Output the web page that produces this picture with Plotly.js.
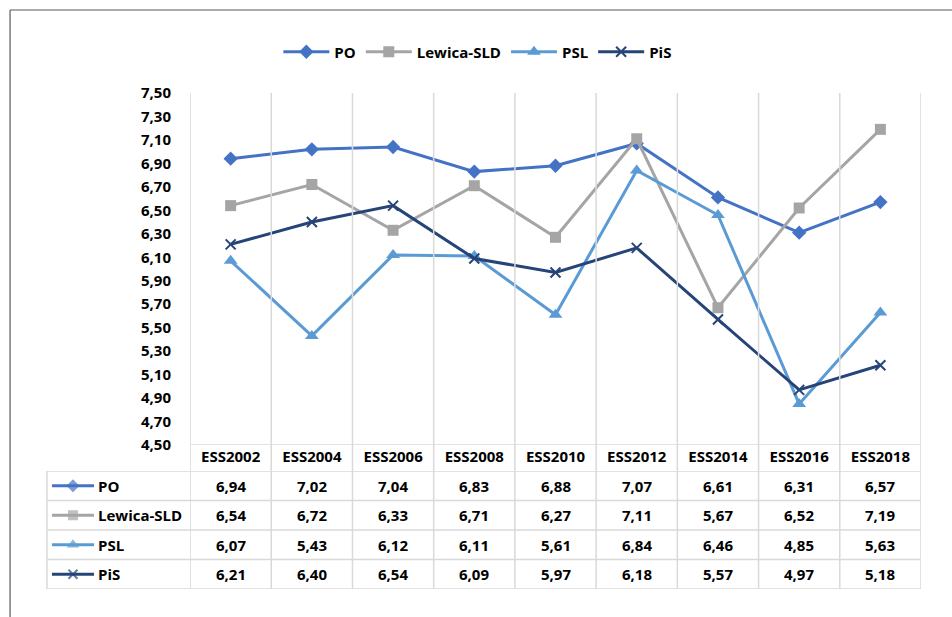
<!DOCTYPE html>
<html>
<head>
<meta charset="utf-8">
<script src="https://cdn.plot.ly/plotly-3.0.1.min.js"></script>
<style>html,body{margin:0;padding:0;background:#fff;}#chart{width:952px;height:617px;}</style>
</head>
<body>
<div id="chart"></div>
<script>
const categories = ['ESS2002','ESS2004','ESS2006','ESS2008','ESS2010','ESS2012','ESS2014','ESS2016','ESS2018'];
const seriesNames = ['PO','Lewica-SLD','PSL','PiS'];
const po     = [6.94,7.02,7.04,6.83,6.88,7.07,6.61,6.31,6.57];
const lewica = [6.54,6.72,6.33,6.71,6.27,7.11,5.67,6.52,7.19];
const psl    = [6.07,5.43,6.12,6.11,5.61,6.84,6.46,4.85,5.63];
const pis    = [6.21,6.40,6.54,6.09,5.97,6.18,5.57,4.97,5.18];
const yTicks = [4.5,4.7,4.9,5.1,5.3,5.5,5.7,5.9,6.1,6.3,6.5,6.7,6.9,7.1,7.3,7.5];

const values = [po, lewica, psl, pis];
const colors = ['#4472C4','#A5A5A5','#5B9BD5','#264478'];
const symbols = ['diamond','square','triangle-up','x-thin'];
const msizes = [11,11,12,10];

const FONT = '"Open Sans", Carlito, Calibri, sans-serif';
const grid = '#D9D9D9';
const tf = {family:FONT, size:15, color:'#000', weight:'bold'};

const traces = [];
values.forEach((v,i)=>{
  traces.push({
    type:'scatter', mode:'lines+markers', name:seriesNames[i],
    x:categories, y:v, xaxis:'x', yaxis:'y',
    line:{color:colors[i], width:3},
    marker:{symbol:symbols[i], size:msizes[i], color:colors[i], line:{color:colors[i], width:symbols[i]==='x-thin'?2:0}}
  });
});
// table row icons
values.forEach((v,i)=>{
  const yc = 3.5 - i;
  traces.push({
    type:'scatter', mode:'lines+markers', showlegend:false, hoverinfo:'skip',
    x:[5,26,47], y:[yc,yc,yc], xaxis:'x2', yaxis:'y2',
    line:{color:colors[i], width:3},
    marker:{symbol:symbols[i], size:[0,msizes[i]-1,0], color:colors[i], line:{color:colors[i], width:symbols[i]==='x-thin'?2:0}}
  });
});

const shapes = [];
for (let k=0;k<=categories.length;k++){
  shapes.push({type:'line', xref:'x', yref:'paper', x0:k-0.5, x1:k-0.5, y0:0, y1:1, line:{color:grid, width:1.5}});
}
shapes.push({type:'line', xref:'x', yref:'y', x0:-0.5, x1:categories.length-0.5, y0:4.5, y1:4.5, line:{color:grid, width:1.5}});
for (let r=0;r<=4;r++){
  shapes.push({type:'line', xref:'paper', yref:'y2', x0:0.0079, x1:1, y0:r, y1:r, line:{color:grid, width:1.5}});
}
shapes.push({type:'line', xref:'paper', yref:'y2', x0:0.0079, x1:0.0079, y0:0, y1:4, line:{color:grid, width:1.5}});
shapes.push({type:'line', xref:'paper', yref:'paper', x0:-0.034, x1:1.1, y0:1.1673, y1:1.1673, line:{color:'#595959', width:1.2}});
shapes.push({type:'line', xref:'paper', yref:'paper', x0:-0.034, x1:-0.034, y0:1.1673, y1:-0.2, line:{color:'#595959', width:1.2}});

const annotations = [];
values.forEach((v,i)=>{
  const yc = 3.5 - i;
  annotations.push({xref:'x2', yref:'y2', x:49, y:yc, text:seriesNames[i], showarrow:false, xanchor:'left', yanchor:'middle', font:tf});
  v.forEach((val,j)=>{
    annotations.push({xref:'x', yref:'y2', x:categories[j], y:yc, text:val.toFixed(2).replace('.',','), showarrow:false, xanchor:'center', yanchor:'middle', font:tf});
  });
});

const layout = {
  width:952, height:617,
  margin:{l:40, r:31, t:93, b:28},
  paper_bgcolor:'#fff', plot_bgcolor:'#fff',
  font:tf,
  separators:', ',
  showlegend:true,
  legend:{orientation:'h', x:0.497, xanchor:'center', y:1.0827, yanchor:'middle', font:tf, itemwidth:46, traceorder:'normal'},
  xaxis:{domain:[0.1703,1], type:'category', range:[-0.5,8.5], showgrid:false, zeroline:false, showline:false, ticks:'', tickfont:tf, ticklabelstandoff:1},
  yaxis:{domain:[0.2903,1], range:[4.5,7.5], tickvals:yTicks, tickformat:'.2f', showgrid:false, zeroline:false, showline:false, ticks:'', ticklabelstandoff:18, tickfont:tf},
  xaxis2:{domain:[0.0079,0.1703], range:[0,143], visible:false, fixedrange:true, anchor:'y2'},
  yaxis2:{domain:[0,0.2379], range:[0,4], visible:false, fixedrange:true, anchor:'x2'},
  shapes:shapes, annotations:annotations
};

Plotly.newPlot('chart', traces, layout, {displayModeBar:false, staticPlot:true});
</script>
</body>
</html>
